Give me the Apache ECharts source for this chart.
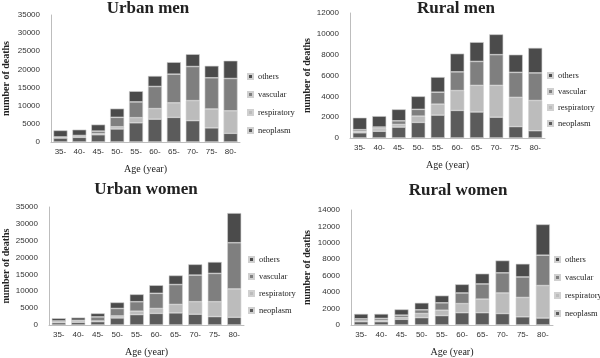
<!DOCTYPE html>
<html>
<head>
<meta charset="UTF-8">
<title>Deaths by age</title>
<script src="https://cdn.jsdelivr.net/npm/echarts@6/dist/echarts.min.js"></script>
<style>
  html, body { margin: 0; padding: 0; background: #fff; }
</style>
</head>
<body>
<div id="main" style="width: 600px;height:358px;"></div>
<script type="text/javascript">
// age groups
var ages = ['35-', '40-', '45-', '50-', '55-', '60-', '65-', '70-', '75-', '80-'];
var causes = ['neoplasm', 'respiratory', 'vascular', 'others'];

// urban men
var urbanMenNeoplasm    = [1100, 1300, 2000, 3600, 5300, 6300, 6800, 5900, 3900, 2400];
var urbanMenRespiratory = [150, 200, 300, 600, 1400, 2900, 4000, 5500, 5200, 6200];
var urbanMenVascular    = [150, 300, 700, 2600, 4350, 6100, 7900, 9400, 8600, 8900];
var urbanMenOthers      = [1800, 1600, 1800, 2400, 2950, 2900, 3300, 3400, 3300, 4900];

// rural men
var ruralMenNeoplasm    = [500, 650, 1050, 1500, 2200, 2650, 2500, 2000, 1100, 700];
var ruralMenRespiratory = [150, 250, 250, 600, 1050, 1900, 2550, 3050, 2800, 2900];
var ruralMenVascular    = [150, 150, 350, 650, 1150, 1800, 2300, 2950, 2400, 2650];
var ruralMenOthers      = [1150, 1050, 1100, 1250, 1450, 1750, 1850, 1950, 1700, 2400];

// urban women
var urbanWomenNeoplasm    = [700, 800, 1000, 2100, 3100, 3450, 3600, 3200, 2500, 2300];
var urbanWomenRespiratory = [150, 200, 200, 600, 1000, 1450, 2500, 3700, 4400, 8400];
var urbanWomenVascular    = [350, 400, 1200, 2200, 2800, 4500, 5900, 7900, 8400, 13700];
var urbanWomenOthers      = [800, 800, 1050, 1800, 2200, 2400, 2700, 3200, 3400, 8800];

// rural women
var ruralWomenNeoplasm    = [400, 400, 700, 900, 1150, 1500, 1500, 1400, 1000, 850];
var ruralWomenRespiratory = [100, 150, 200, 500, 650, 1100, 1650, 2500, 2350, 3950];
var ruralWomenVascular    = [250, 250, 300, 450, 900, 1300, 1850, 2450, 2500, 3700];
var ruralWomenOthers      = [600, 550, 700, 850, 880, 1050, 1250, 1500, 1600, 3750];

var colors = { neoplasm: '#5b5b5b', respiratory: '#bcbcbc', vascular: '#7f7f7f', others: '#4b4b4b' };

var panels = [
  { title: 'Urban men', cx: 143, ty: -5, grid: { left: 47, top: 15, width: 193, height: 127 }, max: 35000, interval: 5000, nameGap: 40,
    legend: { left: 242, top: 67 }, gapL: 9,
    data: [urbanMenNeoplasm, urbanMenRespiratory, urbanMenVascular, urbanMenOthers] },
  { title: 'Rural men', cx: 451, ty: -5, grid: { left: 350, top: 13, width: 195, height: 125 }, max: 12000, interval: 2000, nameGap: 35,
    legend: { left: 542, top: 66 }, gapL: 7,
    data: [ruralMenNeoplasm, ruralMenRespiratory, ruralMenVascular, ruralMenOthers] },
  { title: 'Urban women', cx: 141, ty: 176, grid: { left: 44, top: 207, width: 200, height: 122 }, max: 35000, interval: 5000, nameGap: 38,
    legend: { left: 243, top: 250 }, gapL: 8,
    data: [urbanWomenNeoplasm, urbanWomenRespiratory, urbanWomenVascular, urbanWomenOthers] },
  { title: 'Rural women', cx: 453, ty: 177, grid: { left: 351, top: 210, width: 202, height: 119 }, max: 14000, interval: 2000, nameGap: 39,
    legend: { left: 549, top: 250 }, gapL: 9,
    data: [ruralWomenNeoplasm, ruralWomenRespiratory, ruralWomenVascular, ruralWomenOthers] }
];

var myChart = echarts.init(document.getElementById('main'));

var option = {
  animation: false,
  backgroundColor: '#fff',
  title: [], grid: [], xAxis: [], yAxis: [], legend: [], series: []
};

panels.forEach(function (p, i) {
  option.title.push({
    text: p.title, left: p.cx, top: p.ty, textAlign: 'center',
    textStyle: { fontFamily: 'Liberation Serif', fontWeight: 'bold', fontSize: 17, color: '#222' }
  });
  option.grid.push(p.grid);
  option.xAxis.push({
    type: 'category', gridIndex: i, data: ages,
    name: 'Age (year)', nameLocation: 'middle', nameGap: 22,
    nameTextStyle: { fontFamily: 'Liberation Serif', fontSize: 10, color: '#222' },
    axisLine: { lineStyle: { color: '#bdbdbd' } },
    axisTick: { show: false },
    axisLabel: { fontFamily: 'Liberation Sans', fontSize: 8, color: '#333', margin: 6, interval: 0 }
  });
  option.yAxis.push({
    type: 'value', gridIndex: i, min: 0, max: p.max, interval: p.interval,
    name: 'number of deaths', nameLocation: 'middle', nameGap: p.nameGap,
    nameTextStyle: { fontFamily: 'Liberation Serif', fontWeight: 'bold', fontSize: 10, color: '#222' },
    axisLine: { show: true, lineStyle: { color: '#bdbdbd' } },
    axisTick: { show: false },
    splitLine: { show: false },
    axisLabel: {
      fontFamily: 'Liberation Sans', fontSize: 8, color: '#333', margin: 11,
      formatter: function (v) { return String(v); }
    }
  });
  option.legend.push({
    orient: 'vertical', left: p.legend.left, top: p.legend.top,
    data: ['others', 'vascular', 'respiratory', 'neoplasm'],
    icon: 'rect', itemWidth: 5, itemHeight: 5, itemGap: p.gapL,
    textStyle: { fontFamily: 'Liberation Serif', fontSize: 8.5, color: '#222' },
    selectedMode: false
  });
  causes.forEach(function (c, k) {
    option.series.push({
      name: c, type: 'bar', stack: 'panel' + i,
      xAxisIndex: i, yAxisIndex: i,
      barWidth: 14,
      itemStyle: { color: colors[c], borderColor: '#d0d0d0', borderWidth: 0.6 },
      data: p.data[k]
    });
  });
});

myChart.setOption(option);
</script>
</body>
</html>
